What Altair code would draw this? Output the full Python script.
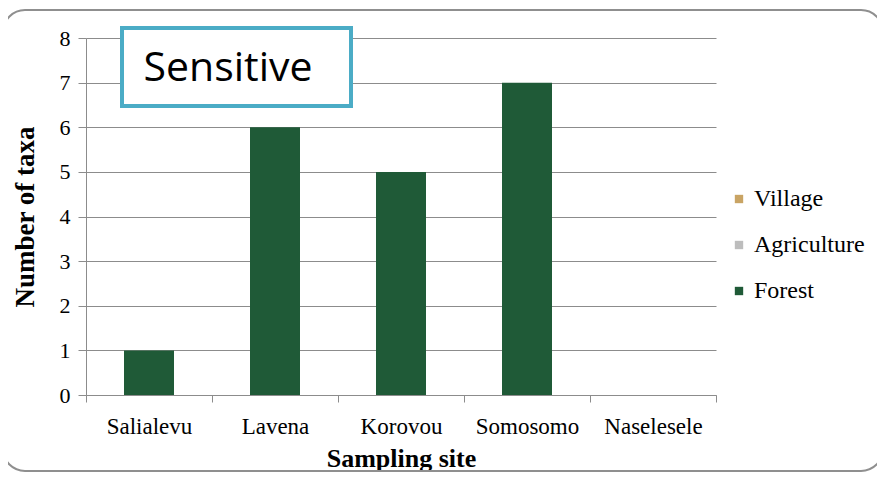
import altair as alt
import pandas as pd

sites = ["Salialevu", "Lavena", "Korovou", "Somosomo", "Naselesele"]
series = ["Village", "Agriculture", "Forest"]
village = [0, 0, 0, 0, 0]
agriculture = [0, 0, 0, 0, 0]
forest = [1, 6, 5, 7, 0]
colors = ["#C9A464", "#BDBDBD", "#1F5A37"]

rows = []
for s, vals in zip(series, [village, agriculture, forest]):
    for site, v in zip(sites, vals):
        rows.append({"site": site, "series": s, "value": v, "order": series.index(s)})
df = pd.DataFrame(rows)

serif = "Liberation Serif"

bars = alt.Chart(df).mark_bar(size=50).encode(
    x=alt.X("site:N", sort=sites, title="Sampling site",
            scale=alt.Scale(paddingInner=0, paddingOuter=0),
            axis=alt.Axis(labelAngle=0, tickBand="extent", tickSize=7,
                          labelPadding=13, labelFontSize=23,
                          labelColor="#000", titleFontSize=26,
                          titleFontWeight="bold", titleColor="#000", titlePadding=7,
                          domainColor="#8c8c8c", tickColor="#8c8c8c")),
    y=alt.Y("value:Q", title="Number of taxa", stack="zero",
            scale=alt.Scale(domain=[0, 8], nice=False),
            axis=alt.Axis(values=list(range(9)), tickSize=8, labelPadding=8,
                          labelFontSize=22, labelColor="#000",
                          titleFontSize=27, titleFontWeight="bold",
                          titleColor="#000", titlePadding=20, grid=True,
                          gridColor="#8c8c8c", domainColor="#8c8c8c",
                          tickColor="#8c8c8c")),
    color=alt.Color("series:N", sort=series,
                    scale=alt.Scale(domain=series, range=colors),
                    legend=alt.Legend(title=None, orient="none", legendX=641,
                                      legendY=149, symbolType="square",
                                      symbolSize=70, rowPadding=22,
                                      labelFontSize=24,
                                      labelColor="#000", labelOffset=3)),
    order=alt.Order("order:Q"),
)

frame = alt.Chart(pd.DataFrame({"a": [0]})).mark_rect(
    fill=None, stroke="#8f8f8f", strokeWidth=2, cornerRadius=22
).encode(x=alt.value(-83), x2=alt.value(797), y=alt.value(-28), y2=alt.value(433))

box = alt.Chart(pd.DataFrame({"a": [0]})).mark_rect(
    fill="white", stroke="#4BACC6", strokeWidth=4
).encode(x=alt.value(36), x2=alt.value(265), y=alt.value(-10), y2=alt.value(68))

label = alt.Chart(pd.DataFrame({"t": ["Sensitive"]})).mark_text(
    font="Open Sans", fontSize=41, color="#000", align="center", baseline="middle"
).encode(x=alt.value(142), y=alt.value(31), text="t:N")

chart = alt.layer(frame, bars, box, label).properties(
    width=630, height=357,
    autosize=alt.AutoSizeParams(type="none"),
    padding={"left": 78, "top": 30, "right": 161, "bottom": 82},
).configure_view(stroke=None).configure_axis(
    grid=False, labelFont=serif, titleFont=serif
).configure_legend(labelFont=serif)

chart.save("out.html", embed_options={"renderer": "svg", "actions": False})
